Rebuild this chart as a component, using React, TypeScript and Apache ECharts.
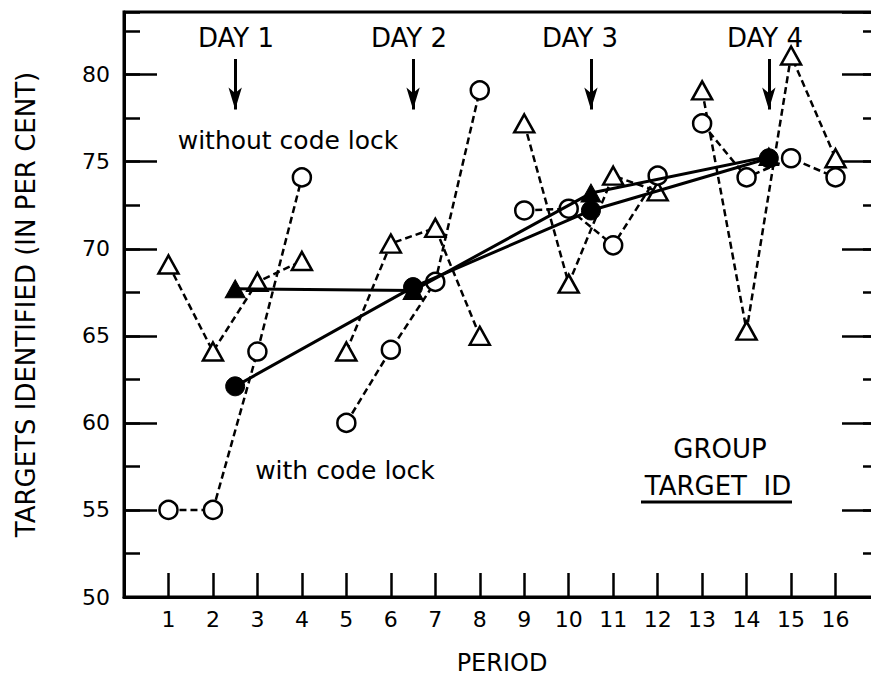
import React, { useEffect, useRef } from "react";
import * as echarts from "echarts";

// ---- data ----
const periods = [1, 2, 3, 4, 5, 6, 7, 8, 9, 10, 11, 12, 13, 14, 15, 16];
const periodsPerDay = 4;
// open triangles, dashed: without code lock
const withoutLock = [69.1, 64.1, 68.1, 69.3, 64.1, 70.3, 71.2, 65.0, 77.2, 68.0, 74.2, 73.3, 79.1, 65.3, 81.1, 75.2];
// open circles, dashed: with code lock
const withLock = [55.0, 55.0, 64.1, 74.1, 60.0, 64.2, 68.1, 79.1, 72.2, 72.3, 70.2, 74.2, 77.2, 74.1, 75.2, 74.1];
// day means (filled symbols, solid lines)
const dayMid = [2.5, 6.5, 10.5, 14.5];
const withoutLockMean = [67.7, 67.6, 73.2, 75.3];
const withLockMean = [62.1, 67.8, 72.2, 75.2];
const dayLabels = ["DAY 1", "DAY 2", "DAY 3", "DAY 4"];
const arrowTop = 80.9;
const arrowTip = 78.0;

const FONT = "DejaVu Sans";

function daySeries(values: number[], symbol: string, size: number | number[]) {
  const out: any[] = [];
  for (let d = 0; d < periods.length / periodsPerDay; d++) {
    const data = periods
      .slice(d * periodsPerDay, (d + 1) * periodsPerDay)
      .map((p, i) => [p, values[d * periodsPerDay + i]]);
    out.push({
      type: "line",
      data,
      symbol,
      symbolSize: size,
      showSymbol: true,
      z: 2,
      lineStyle: { color: "#000", width: 2.5, type: [7, 4] },
      itemStyle: { color: "#fff", borderColor: "#000", borderWidth: 2.5 },
    });
  }
  return out;
}

const centered = { align: "center", verticalAlign: "middle", textAlign: "center", textVerticalAlign: "middle" };

export default function App() {
  const ref = useRef<HTMLDivElement>(null);
  useEffect(() => {
    if (!ref.current) return;
    const chart = echarts.init(ref.current, undefined, { renderer: "svg" });
    const axisCommon = {
      type: "value",
      min: 50,
      max: 83.6,
      splitLine: { show: false },
      axisLabel: { show: false },
      axisLine: { show: false },
    };
    const option: any = {
      animation: false,
      grid: {
        left: 124,
        top: 12,
        right: -9,
        bottom: 80,
        outerBoundsMode: "none",
        containLabel: false,
        show: true,
        borderColor: "#000",
        borderWidth: 3,
        backgroundColor: "transparent",
      },
      xAxis: {
        type: "value",
        min: 0,
        max: 17,
        interval: 1,
        name: "PERIOD",
        nameLocation: "middle",
        nameGap: 54,
        nameTextStyle: { fontFamily: FONT, fontSize: 24, color: "#000" },
        axisLine: { show: true, lineStyle: { color: "#000", width: 3 } },
        axisTick: { show: true, inside: true, length: 24, lineStyle: { color: "#000", width: 2.5 } },
        axisLabel: {
          fontFamily: FONT,
          fontSize: 22,
          color: "#000",
          margin: 11,
          formatter: (v: number) => (v >= 1 && v <= 16 ? String(v) : ""),
        },
        splitLine: { show: false },
      },
      yAxis: [
        {
          ...axisCommon,
          position: "left",
          interval: 5,
          name: "TARGETS IDENTIFIED (IN PER CENT)",
          nameLocation: "middle",
          nameGap: 85,
          nameTextStyle: { fontFamily: FONT, fontSize: 26, color: "#000" },
          axisLine: { show: true, lineStyle: { color: "#000", width: 3 } },
          axisTick: { show: true, inside: true, length: 33, lineStyle: { color: "#000", width: 2.5 } },
          axisLabel: {
            show: true,
            fontFamily: FONT,
            fontSize: 22,
            color: "#000",
            margin: 14,
            showMaxLabel: false,
            formatter: (v: number) => (v % 5 === 0 ? String(v) : ""),
          },
        },
        {
          ...axisCommon,
          position: "left",
          interval: 2.5,
          axisTick: { show: true, inside: true, length: 16, lineStyle: { color: "#000", width: 2.5 } },
        },
        {
          ...axisCommon,
          position: "right",
          interval: 5,
          axisTick: { show: true, inside: true, length: 38, lineStyle: { color: "#000", width: 2.5 } },
        },
        {
          ...axisCommon,
          position: "right",
          interval: 2.5,
          axisTick: { show: true, inside: true, length: 17, lineStyle: { color: "#000", width: 2.5 } },
        },
      ],
      series: [
        ...daySeries(withoutLock, "triangle", [20, 18]),
        ...daySeries(withLock, "circle", 18),
        {
          type: "line",
          data: dayMid.map((x, i) => [x, withoutLockMean[i]]),
          symbol: "triangle",
          symbolSize: [20, 18],
          z: 4,
          lineStyle: { color: "#000", width: 3, type: "solid" },
          itemStyle: { color: "#000", borderColor: "#000", borderWidth: 1 },
          markLine: {
            silent: true,
            symbol: ["none", "arrow"],
            symbolSize: [0, 14],
            label: { show: false },
            lineStyle: { color: "#000", width: 3, type: "solid" },
            data: dayMid.map((x) => [
              { coord: [x, arrowTop], symbol: "none" },
              { coord: [x, arrowTip], symbol: "arrow", symbolSize: [10, 22] },
            ]),
          },
        },
        {
          type: "line",
          data: dayMid.map((x, i) => [x, withLockMean[i]]),
          symbol: "circle",
          symbolSize: 19,
          z: 4,
          lineStyle: { color: "#000", width: 3, type: "solid" },
          itemStyle: { color: "#000", borderColor: "#000", borderWidth: 1 },
        },
      ],
      graphic: [
        ...dayLabels.map((t, i) => ({
          type: "text",
          x: [236, 409, 580, 765][i],
          y: 38,
          style: { text: t, fontFamily: FONT, fontSize: 26, fill: "#000", ...centered },
        })),
        {
          type: "text",
          x: 288,
          y: 140,
          style: { text: "without code lock", fontFamily: FONT, fontSize: 25, fill: "#000", ...centered },
        },
        {
          type: "text",
          x: 345,
          y: 470,
          style: { text: "with code lock", fontFamily: FONT, fontSize: 25, fill: "#000", ...centered },
        },
        {
          type: "text",
          x: 720,
          y: 449,
          style: { text: "GROUP", fontFamily: FONT, fontSize: 26, fill: "#000", ...centered },
        },
        {
          type: "text",
          x: 718,
          y: 486,
          style: { text: "TARGET  ID", fontFamily: FONT, fontSize: 26, fill: "#000", ...centered },
        },
        {
          type: "line",
          shape: { x1: 641, y1: 502, x2: 792, y2: 502 },
          style: { stroke: "#000", lineWidth: 3 },
        },
      ],
    };
    chart.setOption(option);
    return () => chart.dispose();
  }, []);
  return (
    <div
      ref={ref}
      style={{ position: "fixed", left: 0, top: 0, width: 871, height: 677, background: "#fff" }}
    />
  );
}
